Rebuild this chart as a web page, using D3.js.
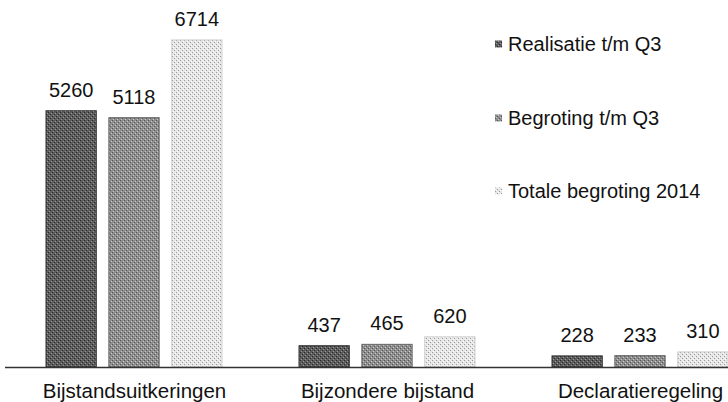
<!DOCTYPE html>
<html>
<head>
<meta charset="utf-8">
<script src="https://cdn.jsdelivr.net/npm/d3@7"></script>
<style>
  html, body { margin: 0; padding: 0; background: #fff; }
  svg { display: block; }
  text { font-family: "Liberation Sans", Arial, sans-serif; fill: #111; }
</style>
</head>
<body>
<svg id="chart" width="728" height="402"></svg>
<script>
const categories = ["Bijstandsuitkeringen", "Bijzondere bijstand", "Declaratieregeling"];
const series = ["Realisatie t/m Q3", "Begroting t/m Q3", "Totale begroting 2014"];
const realisatie = [5260, 437, 228];
const begrotingQ3 = [5118, 465, 233];
const totaleBegroting = [6714, 620, 310];
const seriesValues = [realisatie, begrotingQ3, totaleBegroting];

const W = 728, H = 402;
const svg = d3.select("#chart");
const defs = svg.append("defs");

// dithered-looking fills
const fills = [
  {id: "p0", base: "#5c5c5c", dots: ["#2a2a2a", "#9a9a9a"], stroke: "#333"},
  {id: "p1", base: "#8e8e8e", dots: ["#555", "#c8c8c8"], stroke: "#666"},
  {id: "p2", base: "#e6e6e6", dots: ["#9a9a9a", "#ffffff"], stroke: "#d0d0d0"}
];
fills.forEach((f, i) => {
  const p = defs.append("pattern").attr("id", f.id)
    .attr("patternUnits", "userSpaceOnUse").attr("width", 4).attr("height", 4);
  p.append("rect").attr("width", 4).attr("height", 4).attr("fill", f.base);
  p.append("rect").attr("x", 0).attr("y", 0).attr("width", 1).attr("height", 1).attr("fill", f.dots[0]);
  p.append("rect").attr("x", 2).attr("y", 2).attr("width", 1).attr("height", 1).attr("fill", f.dots[0]);
  p.append("rect").attr("x", 1).attr("y", 3).attr("width", 1).attr("height", 1).attr("fill", f.dots[1]);
  p.append("rect").attr("x", 3).attr("y", 1).attr("width", 1).attr("height", 1).attr("fill", f.dots[1]);
});

const baseY = 367;
const x0 = d3.scaleBand().domain(categories).range([8, 767]).paddingInner(0).paddingOuter(0);
const x1 = d3.scaleBand().domain(series).range([38, 214]).paddingInner(0.2).paddingOuter(0);
const y = d3.scaleLinear().domain([0, 7000]).range([baseY, 26]);

const data = [];
categories.forEach((c, ci) => {
  series.forEach((s, si) => {
    data.push({cat: c, ser: s, si: si, v: seriesValues[si][ci]});
  });
});

const g = svg.append("g");
g.selectAll("rect.bar").data(data).enter().append("rect")
  .attr("class", "bar")
  .attr("x", d => x0(d.cat) + x1(d.ser))
  .attr("y", d => y(d.v))
  .attr("width", x1.bandwidth())
  .attr("height", d => baseY - y(d.v))
  .attr("fill", d => "url(#" + fills[d.si].id + ")")
  .attr("stroke", d => fills[d.si].stroke)
  .attr("stroke-width", 1);

g.selectAll("text.val").data(data).enter().append("text")
  .attr("class", "val")
  .attr("x", d => x0(d.cat) + x1(d.ser) + x1.bandwidth() / 2)
  .attr("y", d => y(d.v) - 14)
  .attr("text-anchor", "middle")
  .style("font-size", "20px")
  .text(d => d.v);

// axis baseline
const xAxis = d3.axisBottom(x0).tickSize(0).tickPadding(16);
const ax = svg.append("g").attr("transform", `translate(0,${baseY})`).call(xAxis);
ax.select(".domain").attr("d", `M5,0.5H728`).attr("stroke", "#333").attr("stroke-width", 1.5);
ax.selectAll(".tick text").style("font-size", "20.5px").attr("fill", "#111")
  .attr("font-family", null);

// legend
const legendY = [44, 118, 191];
const lg = svg.append("g").selectAll("g").data(series).enter().append("g")
  .attr("transform", (d, i) => `translate(495,${legendY[i]})`);
lg.append("rect").attr("x", 0).attr("y", -3.5).attr("width", 7).attr("height", 7)
  .attr("fill", (d, i) => "url(#" + fills[i].id + ")");
lg.append("text").attr("x", 13).attr("y", 0).attr("dy", "0.35em")
  .style("font-size", "20px").text(d => d);
</script>
</body>
</html>
